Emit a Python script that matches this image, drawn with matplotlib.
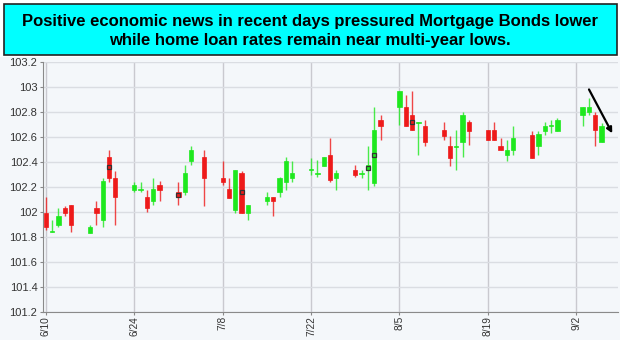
import numpy as np
import pandas as pd
import matplotlib
matplotlib.use("Agg")
import matplotlib.pyplot as plt
import matplotlib.dates as mdates
from matplotlib.patches import Rectangle

plt.rcParams["font.family"] = ["Liberation Sans", "DejaVu Sans"]

# Daily OHLC for the mortgage bond (trading days only)
dates = ["2013-06-10", "2013-06-11", "2013-06-12", "2013-06-13", "2013-06-14",
         "2013-06-17", "2013-06-18", "2013-06-19", "2013-06-20", "2013-06-21",
         "2013-06-24", "2013-06-25", "2013-06-26", "2013-06-27", "2013-06-28",
         "2013-07-01", "2013-07-02", "2013-07-03", "2013-07-05",
         "2013-07-08", "2013-07-09", "2013-07-10", "2013-07-11", "2013-07-12",
         "2013-07-15", "2013-07-16", "2013-07-17", "2013-07-18", "2013-07-19",
         "2013-07-22", "2013-07-23", "2013-07-24", "2013-07-25", "2013-07-26",
         "2013-07-29", "2013-07-30", "2013-07-31", "2013-08-01", "2013-08-02",
         "2013-08-05", "2013-08-06", "2013-08-07", "2013-08-08", "2013-08-09",
         "2013-08-12", "2013-08-13", "2013-08-14", "2013-08-15", "2013-08-16",
         "2013-08-19", "2013-08-20", "2013-08-21", "2013-08-22", "2013-08-23",
         "2013-08-26", "2013-08-27", "2013-08-28", "2013-08-29", "2013-08-30",
         "2013-09-03", "2013-09-04", "2013-09-05", "2013-09-06"]

opens = [101.99, 101.84, 101.90, 102.03, 102.06,
         101.83, 102.03, 101.94, 102.44, 102.27,
         102.18, 102.18, 102.12, 102.09, 102.22,
         102.16, 102.16, 102.41, 102.44,
         102.27, 102.18, 102.02, 102.31, 101.99,
         102.09, 102.12, 102.16, 102.24, 102.27,
         102.335, 102.31, 102.37, 102.46, 102.27,
         102.34, 102.31, 102.34, 102.23, 102.74,
         102.84, 102.84, 102.78, 102.715, 102.69,
         102.66, 102.53, 102.52, 102.56, 102.72,
         102.66, 102.66, 102.53, 102.46, 102.50,
         102.62, 102.53, 102.65, 102.69, 102.65,
         102.78, 102.80, 102.78, 102.56]

highs = [102.12, 101.94, 102.03, 102.05, 102.06,
         101.90, 102.09, 102.27, 102.50, 102.33,
         102.24, 102.24, 102.18, 102.27, 102.25,
         102.24, 102.38, 102.53, 102.50,
         102.41, 102.27, 102.34, 102.33, 102.06,
         102.16, 102.12, 102.28, 102.44, 102.41,
         102.43, 102.42, 102.44, 102.59, 102.34,
         102.38, 102.34, 102.53, 102.84, 102.78,
         102.97, 102.94, 102.97, 102.72, 102.74,
         102.72, 102.61, 102.66, 102.80, 102.74,
         102.66, 102.72, 102.59, 102.58, 102.69,
         102.65, 102.65, 102.72, 102.74, 102.75,
         102.84, 102.91, 102.80, 102.71]

lows = [101.86, 101.84, 101.88, 101.97, 101.84,
        101.83, 101.90, 101.88, 102.24, 101.90,
        102.16, 102.16, 102.00, 102.06, 102.09,
        102.06, 102.14, 102.38, 102.05,
        102.22, 102.11, 101.99, 101.99, 101.94,
        102.06, 101.97, 102.12, 102.18, 102.24,
        102.30, 102.28, 102.37, 102.24, 102.18,
        102.28, 102.27, 102.18, 102.21, 102.58,
        102.70, 102.69, 102.66, 102.46, 102.53,
        102.58, 102.37, 102.34, 102.44, 102.54,
        102.58, 102.58, 102.50, 102.41, 102.46,
        102.43, 102.46, 102.62, 102.63, 102.645,
        102.69, 102.78, 102.53, 102.56]

closes = [101.88, 101.845, 101.97, 101.99, 101.90,
          101.88, 101.99, 102.25, 102.27, 102.12,
          102.22, 102.185, 102.03, 102.18, 102.18,
          102.12, 102.31, 102.50, 102.27,
          102.24, 102.11, 102.34, 101.99, 102.06,
          102.12, 102.09, 102.27, 102.41, 102.31,
          102.34, 102.315, 102.44, 102.26, 102.31,
          102.30, 102.315, 102.38, 102.66, 102.69,
          102.97, 102.69, 102.66, 102.72, 102.56,
          102.61, 102.43, 102.525, 102.78, 102.65,
          102.58, 102.58, 102.50, 102.50, 102.59,
          102.43, 102.62, 102.69, 102.695, 102.74,
          102.84, 102.84, 102.66, 102.69]

# small outlined markers drawn on a few sessions
marker_dates = ["2013-06-20", "2013-07-01", "2013-07-11", "2013-07-31", "2013-08-01", "2013-08-07"]
marker_values = [102.36, 102.14, 102.16, 102.356, 102.456, 102.72]

tick_dates = ["2013-06-10", "2013-06-24", "2013-07-08", "2013-07-22",
              "2013-08-05", "2013-08-19", "2013-09-02"]
y_ticks = [101.2, 101.4, 101.6, 101.8, 102, 102.2, 102.4, 102.6, 102.8, 103, 103.2]

title = ("Positive economic news in recent days pressured Mortgage Bonds lower\n"
         "while home loan rates remain near multi-year lows.")

x = mdates.date2num(pd.to_datetime(dates))
o = np.array(opens)
h = np.array(highs)
l = np.array(lows)
c = np.array(closes)
up = c >= o
red, green = "#ee1a1a", "#1ee81e"
colors = np.where(up, green, red)

fig = plt.figure(figsize=(6.2, 3.4), dpi=100, facecolor="white")
fig.patches.append(Rectangle((0, 0), 1, 1 - 57 / 340, transform=fig.transFigure,
                             facecolor="#f4f7fa", edgecolor="none", zorder=-1))

# title banner
fig.patches.append(Rectangle((4 / 620, 1 - 55 / 340), 613 / 620, 51 / 340,
                             transform=fig.transFigure, facecolor="#00ffff",
                             edgecolor="#222222", linewidth=1.2, zorder=1))
fig.text(0.5, 1 - 31 / 340, title, ha="center", va="center", fontsize=12,
         fontweight="bold", color="black", linespacing=1.4, zorder=2)

ax = fig.add_axes([43 / 620, 1 - 312 / 340, 575 / 620, 250 / 340])
ax.set_facecolor("#f4f7fa")

# wicks and bodies
ax.vlines(x, l, h, colors=colors, linewidth=1.0, alpha=0.8, zorder=3)
heights = np.maximum(np.abs(c - o), 0.008)
bottoms = np.where(np.abs(c - o) < 0.008, np.minimum(o, c) - 0.002, np.minimum(o, c))
ax.bar(x, heights, bottom=bottoms, width=0.68, color=colors, edgecolor=colors,
       linewidth=0.5, zorder=4)

mx = mdates.date2num(pd.to_datetime(marker_dates))
ax.plot(mx, marker_values, linestyle="none", marker="s", markersize=3.5,
        markerfacecolor="none", markeredgecolor="#333333", markeredgewidth=0.9, zorder=5)

base = mdates.date2num(pd.Timestamp("2013-06-10"))
ax.annotate("", xy=(base + 89.9, 102.61), xytext=(base + 85.8, 103.0),
            arrowprops=dict(arrowstyle="-|>", color="black", lw=1.6,
                            mutation_scale=8), zorder=6)

ax.set_xlim(base - 0.45, base + 90.6)
ax.set_ylim(101.2, 103.2)

tx = mdates.date2num(pd.to_datetime(tick_dates))
ax.set_xticks(tx)
ax.set_xticklabels([f"{d.month}/{d.day}" for d in pd.to_datetime(tick_dates)],
                   rotation=90, fontsize=7.3, color="#333333")
ax.set_yticks(y_ticks)
ax.set_yticklabels([f"{v:g}" for v in y_ticks], fontsize=8, color="#333333")

ax.grid(axis="y", color="#dadde2", linewidth=1.0, zorder=0)
ax.grid(axis="x", color="#c9c9cf", linewidth=1.0, zorder=0)
ax.set_axisbelow(True)
ax.tick_params(axis="y", length=2.5, color="#888888", pad=1.5)
ax.tick_params(axis="x", length=2, color="#888888", pad=1)

for side in ["top", "right"]:
    ax.spines[side].set_visible(False)
for side in ["left", "bottom"]:
    ax.spines[side].set_color("#8a8a8a")

fig.savefig("out.png", dpi=100, facecolor=fig.get_facecolor())
